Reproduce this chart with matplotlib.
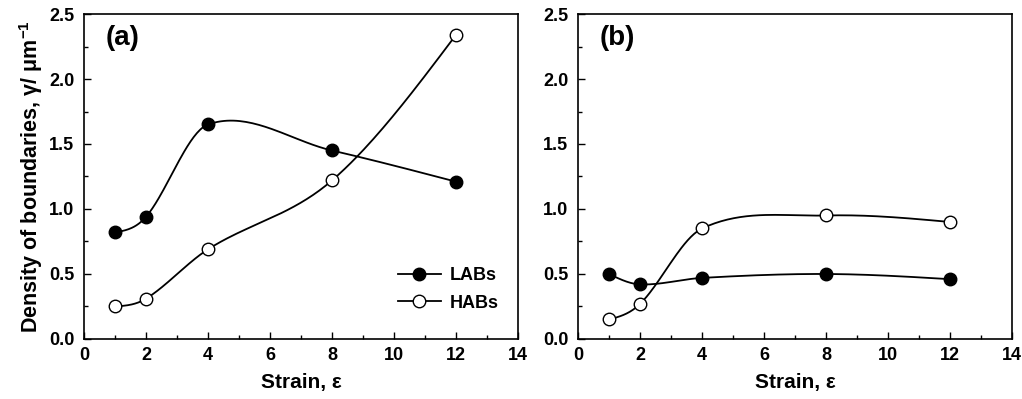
import matplotlib
matplotlib.use("Agg")
import matplotlib.pyplot as plt
import numpy as np
from matplotlib.lines import Line2D
from matplotlib.ticker import MultipleLocator

plt.rcParams["font.family"] = ["Liberation Sans", "DejaVu Sans"]
plt.rcParams["font.weight"] = "bold"
plt.rcParams["mathtext.fontset"] = "custom"
plt.rcParams["mathtext.rm"] = "Liberation Sans:bold"
plt.rcParams["mathtext.bf"] = "Liberation Sans:bold"

# --- values ---
STRAIN = [1, 2, 4, 8, 12]
LABS_A = [0.82, 0.94, 1.65, 1.45, 1.21]
HABS_A = [0.25, 0.31, 0.69, 1.22, 2.34]
LABS_B = [0.50, 0.42, 0.47, 0.50, 0.46]
HABS_B = [0.15, 0.27, 0.85, 0.95, 0.90]


def smooth(x, y, n=40):
    """cubic Hermite (Catmull-Rom style) curve through the points, only for the connecting line"""
    x = np.asarray(x, float); y = np.asarray(y, float)
    k = len(x)
    m = np.zeros(k)
    for i in range(1, k - 1):
        m[i] = (y[i + 1] - y[i - 1]) / (x[i + 1] - x[i - 1])
    m[0] = (3 * (y[1] - y[0]) / (x[1] - x[0]) - m[1]) / 2
    m[-1] = (3 * (y[-1] - y[-2]) / (x[-1] - x[-2]) - m[-2]) / 2
    xs, ys = [], []
    for i in range(k - 1):
        h = x[i + 1] - x[i]
        t = np.linspace(0, 1, n)
        h00 = 2 * t**3 - 3 * t**2 + 1; h10 = t**3 - 2 * t**2 + t
        h01 = -2 * t**3 + 3 * t**2; h11 = t**3 - t**2
        xs.append(x[i] + t * h)
        ys.append(h00 * y[i] + h10 * h * m[i] + h01 * y[i + 1] + h11 * h * m[i + 1])
    return np.concatenate(xs), np.concatenate(ys)


fig = plt.figure(figsize=(10.22, 3.99), dpi=100)
ax1 = fig.add_axes([0.0822, 0.1504, 0.4247, 0.8145])
ax2 = fig.add_axes([0.5656, 0.1504, 0.4247, 0.8145])

for ax, labs, habs, tag in [(ax1, LABS_A, HABS_A, "(a)"), (ax2, LABS_B, HABS_B, "(b)")]:
    for vals, face in [(labs, "black"), (habs, "white")]:
        xs, ys = smooth(STRAIN, vals)
        ax.plot(xs, ys, color="black", lw=1.3, zorder=2)
        ax.plot(STRAIN, vals, ls="none", marker="o", ms=9, mfc=face, mec="black",
                mew=1.0, zorder=3)
    ax.set_xlim(0, 14); ax.set_ylim(0, 2.5)
    ax.xaxis.set_major_locator(MultipleLocator(2)); ax.xaxis.set_minor_locator(MultipleLocator(1))
    ax.yaxis.set_major_locator(MultipleLocator(0.5)); ax.yaxis.set_minor_locator(MultipleLocator(0.25))
    ax.set_yticks(np.arange(0, 2.51, 0.5))
    ax.set_yticklabels([f"{v:.1f}" for v in np.arange(0, 2.51, 0.5)])
    ax.tick_params(which="both", direction="in", labelsize=13, width=1.0)
    ax.tick_params(which="major", length=5); ax.tick_params(which="minor", length=3)
    ax.tick_params(axis="x", pad=6); ax.tick_params(axis="y", pad=7)
    for s in ax.spines.values():
        s.set_linewidth(1.2)
    ax.set_xlabel("Strain, ε", fontsize=15, fontweight="bold")
    ax.xaxis.set_label_coords(0.5, -0.105)
    ax.text(0.05, 0.965, tag, transform=ax.transAxes, fontsize=20, fontweight="bold", va="top")

ax1.set_ylabel(r"Density of boundaries, γ/ μm$^{-1}$", fontsize=15.5, fontweight="bold")
ax1.yaxis.set_label_coords(-0.09, 0.5)

handles = [Line2D([], [], color="black", lw=1.3, marker="o", ms=9, mfc="black", mec="black"),
           Line2D([], [], color="black", lw=1.3, marker="o", ms=9, mfc="white", mec="black")]
ax1.legend(handles, ["LABs", "HABs"], loc="lower right", bbox_to_anchor=(0.985, 0.045),
           frameon=False, handlelength=2.4, handletextpad=0.5, borderaxespad=0.3,
           labelspacing=0.6, prop={"weight": "bold", "size": 13})

fig.savefig("out.png", dpi=100)
